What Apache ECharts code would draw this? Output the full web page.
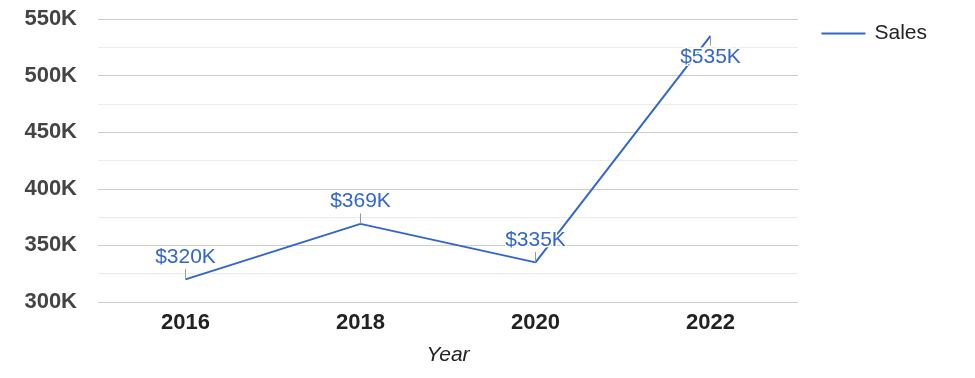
<!DOCTYPE html>
<html lang="en">
<head>
    <meta charset="UTF-8">
    <title>Sales by Year</title>
    <script src="https://cdn.jsdelivr.net/npm/echarts@6/dist/echarts.min.js"></script>
</head>
<body style="margin:0;background:#fff;">
    <div id="chart-container" style="width: 975px; height: 378px;"></div>
    <script>
    // data
    var years = ['2016', '2018', '2020', '2022'];
    var sales = [320000, 369000, 335000, 535000];
    var labelSide = ['top', 'top', 'top', 'bottom'];

    var font = 'Arial, "Liberation Sans", sans-serif';
    var chart = echarts.init(document.getElementById('chart-container'));

    var points = sales.map(function (v, i) {
        return {
            value: v,
            label: { position: labelSide[i] }
        };
    });

    var option = {
        animation: false,
        grid: { left: 98, right: 177, top: 19, bottom: 76 },
        legend: {
            right: 43,
            top: 18,
            itemWidth: 44,
            itemHeight: 2,
            itemGap: 8,
            icon: 'rect',
            textStyle: { fontSize: 21, color: '#222', fontFamily: font, padding: [0, 0, 0, 4] },
            data: ['Sales']
        },
        xAxis: {
            type: 'category',
            data: years,
            name: 'Year',
            nameLocation: 'middle',
            nameGap: 43,
            nameTextStyle: { fontSize: 21, fontStyle: 'italic', color: '#222', fontFamily: font },
            axisLine: { show: false },
            axisTick: { show: false },
            axisLabel: { fontSize: 22, fontWeight: 'bold', color: '#222', margin: 10, fontFamily: font }
        },
        yAxis: {
            type: 'value',
            min: 300000,
            max: 550000,
            interval: 50000,
            axisLine: { show: false },
            axisTick: { show: false },
            axisLabel: {
                fontSize: 22,
                fontWeight: 'bold',
                color: '#444',
                margin: 21,
                fontFamily: font,
                formatter: function (v) { return (v / 1000) + 'K'; }
            },
            splitLine: { lineStyle: { color: '#cccccc' } },
            minorTick: { show: false, splitNumber: 2 },
            minorSplitLine: { show: true, lineStyle: { color: '#ebebeb' } }
        },
        series: [{
            name: 'Sales',
            type: 'line',
            data: points,
            symbol: 'circle',
            symbolSize: 0.01,
            showSymbol: true,
            lineStyle: { color: '#3366cc', width: 2 },
            itemStyle: { color: '#3366cc' },
            label: {
                show: true,
                distance: 1,
                fontSize: 21,
                color: '#3366cc',
                textBorderColor: '#fff',
                textBorderWidth: 3,
                fontFamily: font,
                formatter: function (p) { return '$' + Math.round(p.value / 1000) + 'K'; }
            },
            labelLayout: function (p) {
                return { dy: p.dataIndex === 3 ? 10 : -11 };
            },
            labelLine: { show: true, lineStyle: { color: '#999', width: 1 } }
        }]
    };

    chart.setOption(option);
    </script>
</body>
</html>
